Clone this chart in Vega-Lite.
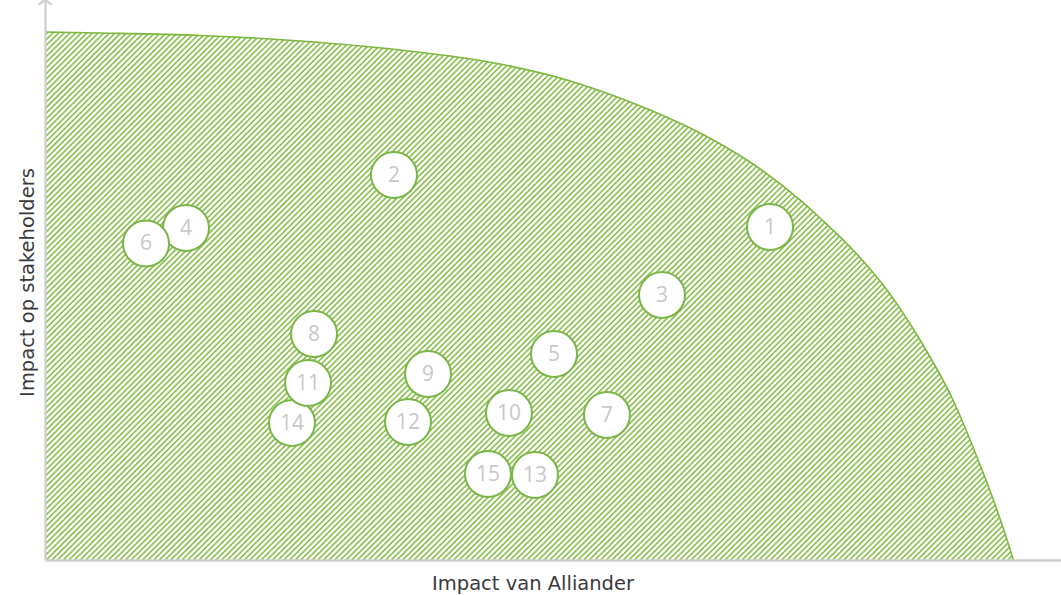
{
  "$schema": "https://vega.github.io/schema/vega-lite/v6.json",
  "width": 1016,
  "height": 560,
  "autosize": {"type": "none"},
  "padding": {"left": 45, "top": 0, "right": 0, "bottom": 35},
  "background": "#ffffff",
  "config": {"view": {"stroke": null}, "font": "Open Sans"},
  "datasets": {
    "edge": [
      {"x": 0, "y": 94.29, "o": 1},
      {"x": 5.41, "y": 94.11, "o": 1},
      {"x": 15.26, "y": 93.66, "o": 1},
      {"x": 25.1, "y": 92.68, "o": 1},
      {"x": 34.94, "y": 91.07, "o": 1},
      {"x": 44.78, "y": 88.57, "o": 1},
      {"x": 51.38, "y": 85.71, "o": 1},
      {"x": 56.3, "y": 82.68, "o": 1},
      {"x": 59.55, "y": 80.36, "o": 1},
      {"x": 64.47, "y": 76.25, "o": 1},
      {"x": 69.39, "y": 71.07, "o": 1},
      {"x": 74.31, "y": 64.29, "o": 1},
      {"x": 76.28, "y": 61.07, "o": 1},
      {"x": 79.53, "y": 55.36, "o": 1},
      {"x": 82.87, "y": 48.21, "o": 1},
      {"x": 86.12, "y": 39.29, "o": 1},
      {"x": 89.37, "y": 28.57, "o": 1},
      {"x": 91.73, "y": 18.39, "o": 1},
      {"x": 93.7, "y": 8.93, "o": 1},
      {"x": 95.28, "y": 0.18, "o": 1},
      {"x": 95.62, "y": -1.96, "o": 1},
      {"x": 100, "y": -1.96, "o": 0}
    ],
    "hatch": [
      {"x": -12.99, "y": 164.29},
      {"x": 112.99, "y": -64.29}
    ],
    "topics": [
      {"id": "1", "x": 71.36, "y": 59.46},
      {"id": "2", "x": 34.35, "y": 68.75},
      {"id": "3", "x": 60.73, "y": 47.32},
      {"id": "4", "x": 13.88, "y": 59.3},
      {"id": "5", "x": 50.1, "y": 36.79},
      {"id": "6", "x": 9.94, "y": 56.52},
      {"id": "7", "x": 55.31, "y": 25.89},
      {"id": "8", "x": 26.48, "y": 40.36},
      {"id": "9", "x": 37.7, "y": 33.21},
      {"id": "10", "x": 45.67, "y": 26.25},
      {"id": "12", "x": 35.73, "y": 24.64},
      {"id": "13", "x": 48.23, "y": 15.18},
      {"id": "14", "x": 24.31, "y": 24.46},
      {"id": "15", "x": 43.6, "y": 15.36},
      {"id": "11", "x": 25.89, "y": 31.61}
    ],
    "arrow": [{"x": 0, "y": 100}]
  },
  "encoding": {
    "x": {
      "field": "x",
      "type": "quantitative",
      "scale": {"domain": [0, 100], "nice": false, "zero": false},
      "axis": {
        "title": "Impact van Alliander",
        "domain": true,
        "domainColor": "#cfcfcf",
        "domainWidth": 2.3,
        "ticks": false,
        "labels": false,
        "grid": false,
        "titleFont": "DejaVu Sans",
        "titleFontSize": 19.5,
        "titleFontWeight": "normal",
        "titleColor": "#3a3a3a",
        "titleX": 487.5,
        "titleY": 29.3,
        "titleBaseline": "alphabetic",
        "titleAlign": "center",
        "zindex": 1
      }
    },
    "y": {
      "field": "y",
      "type": "quantitative",
      "scale": {"domain": [0, 100], "nice": false, "zero": false},
      "axis": {
        "title": "Impact op stakeholders",
        "domain": true,
        "domainColor": "#cfcfcf",
        "domainWidth": 2.3,
        "ticks": false,
        "labels": false,
        "grid": false,
        "titleFont": "DejaVu Sans",
        "titleFontSize": 19.5,
        "titleFontWeight": "normal",
        "titleColor": "#3a3a3a",
        "titleX": -12,
        "titleY": 282,
        "titleAngle": -90,
        "titleBaseline": "alphabetic",
        "titleAlign": "center",
        "zindex": 1
      }
    }
  },
  "layer": [
    {
      "data": {"name": "hatch"},
      "mark": {
        "type": "line",
        "clip": true,
        "stroke": "#86c04a",
        "strokeWidth": 1700,
        "strokeDash": [1.6, 2.4],
        "strokeCap": "butt"
      }
    },
    {
      "data": {"name": "edge"},
      "mark": {"type": "area", "clip": true, "fill": "#ffffff", "interpolate": "monotone", "opacity": 1},
      "encoding": {"y2": {"datum": 100}}
    },
    {
      "data": {"name": "edge"},
      "transform": [{"filter": "datum.o == 1"}],
      "mark": {"type": "line", "clip": true, "stroke": "#7cb83f", "strokeWidth": 1.6, "interpolate": "monotone"}
    },
    {
      "data": {"name": "topics"},
      "mark": {
        "type": "circle",
        "size": 2116,
        "fill": "#ffffff",
        "fillOpacity": 1,
        "stroke": "#7ab648",
        "strokeWidth": 2,
        "strokeOpacity": 1,
        "opacity": 1
      }
    },
    {
      "data": {"name": "topics"},
      "mark": {
        "type": "text",
        "font": "Open Sans",
        "fontSize": 21,
        "color": "#c8c8c8",
        "align": "center",
        "baseline": "middle",
        "dy": 1
      },
      "encoding": {"text": {"field": "id"}}
    },
    {
      "data": {"name": "arrow"},
      "mark": {
        "type": "point",
        "shape": "M-1,0.7L0,0L1,0.7",
        "size": 174,
        "filled": false,
        "stroke": "#cfcfcf",
        "strokeWidth": 2.3,
        "opacity": 1,
        "clip": false
      }
    }
  ]
}
